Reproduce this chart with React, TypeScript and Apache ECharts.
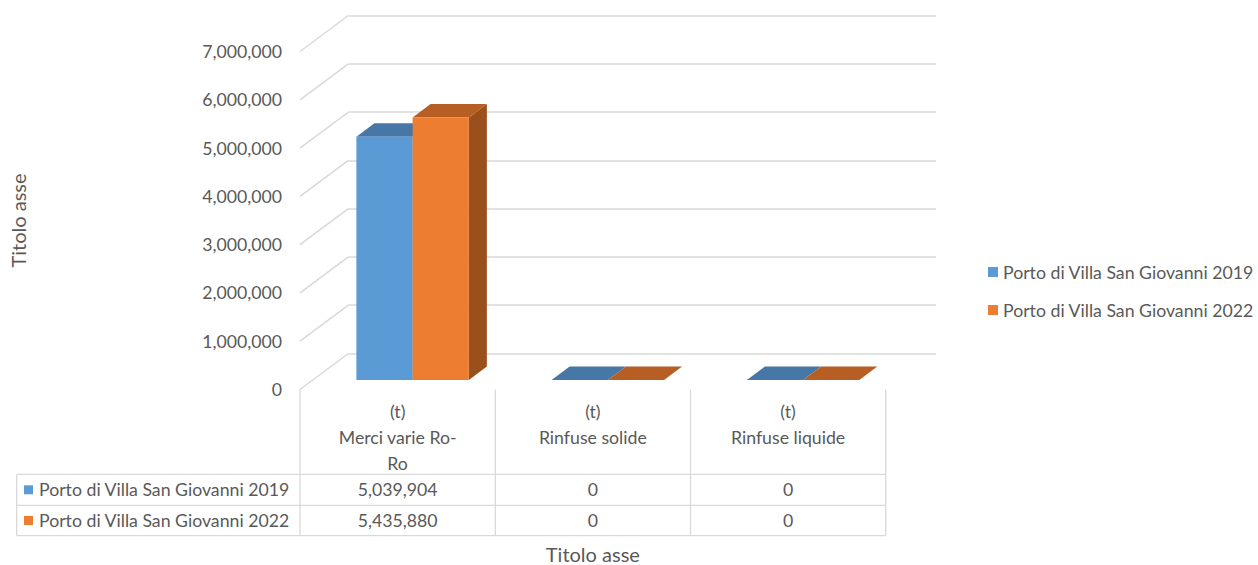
import React, { useEffect, useRef } from "react";
import * as echarts from "echarts";

// ---- data ----
const categories = ["Merci varie Ro-Ro", "Rinfuse solide", "Rinfuse liquide"];
const categoryLabels = ["(t)\nMerci varie Ro-\nRo", "(t)\nRinfuse solide", "(t)\nRinfuse liquide"];
const seriesNames = ["Porto di Villa San Giovanni 2019", "Porto di Villa San Giovanni 2022"];
const values2019 = [5039904, 0, 0];
const values2022 = [5435880, 0, 0];
const yTicks = [0, 1000000, 2000000, 3000000, 4000000, 5000000, 6000000, 7000000];
const axisTitle = "Titolo asse";

// ---- layout ----
const W = 1258;
const H = 565;
const FONT = "Lato, 'Open Sans', sans-serif";
const FS = 17.7;
const FS_TITLE = 20;
const TEXT = "#595959";
const GRID = "#D9D9D9";
const FRONT = { left: 300, top: 51.5, width: 585.7, height: 338 };
const FRONT_BOTTOM = FRONT.top + FRONT.height;
const FRONT_RIGHT = FRONT.left + FRONT.width;
const WALL_DX = 48.4;
const WALL_DY = -36;
const BAR_SHIFT = 15;
const BAR_LIFT = -9.5;
const BAR_DX = 18;
const BAR_DY = -13.5;
const BAR_RATIO = 0.288;

const palettes = [
  { front: "#5B9BD5", top: "#4677A6", side: "#3F6C95" },
  { front: "#ED7D31", top: "#B65E23", side: "#9A4F1C" },
];

const fmt = (v: number) => v.toLocaleString("en-US");

function barRenderer(idx: number) {
  const pal = palettes[idx];
  return (_params: any, api: any) => {
    const i = api.value(0);
    const v = api.value(1);
    const base = api.coord([i, 0]);
    const top = api.coord([i, v]);
    const band = api.size([1, 0])[0];
    const w = band * BAR_RATIO;
    const cx = base[0] + BAR_SHIFT;
    const x0 = idx === 0 ? cx - w : cx;
    const x1 = x0 + w;
    const yb = base[1] + BAR_LIFT;
    const yt = top[1] + BAR_LIFT;
    return {
      type: "group",
      children: [
        {
          type: "polygon",
          shape: { points: [[x1, yt], [x1 + BAR_DX, yt + BAR_DY], [x1 + BAR_DX, yb + BAR_DY], [x1, yb]] },
          style: { fill: pal.side },
        },
        {
          type: "polygon",
          shape: { points: [[x0, yt], [x0 + BAR_DX, yt + BAR_DY], [x1 + BAR_DX, yt + BAR_DY], [x1, yt]] },
          style: { fill: pal.top },
        },
        {
          type: "rect",
          shape: { x: x0, y: yt, width: w, height: yb - yt },
          style: { fill: pal.front },
        },
      ],
    };
  };
}

function buildTable() {
  const els: any[] = [];
  const rowLines = [474.3, 505.3, 535.7];
  const colLines = [FRONT.left, 495.3, 690.5, FRONT_RIGHT];
  const tableLeft = 16.7;
  const line = (x1: number, y1: number, x2: number, y2: number) => ({
    type: "line",
    shape: { x1, y1, x2, y2 },
    style: { stroke: GRID, lineWidth: 1.3 },
    silent: true,
  });
  rowLines.forEach((y) => els.push(line(tableLeft, y, FRONT_RIGHT, y)));
  els.push(line(tableLeft, rowLines[0], tableLeft, rowLines[2]));
  colLines.forEach((x) => els.push(line(x, FRONT_BOTTOM, x, rowLines[2])));

  const rows = [values2019, values2022];
  rows.forEach((vals, r) => {
    const cy = (rowLines[r] + rowLines[r + 1]) / 2;
    els.push({
      type: "rect",
      shape: { x: 24, y: cy - 4.5, width: 9, height: 9 },
      style: { fill: palettes[r].front },
    });
    els.push({
      type: "text",
      x: 39,
      y: cy,
      style: { text: seriesNames[r], fill: TEXT, font: `${FS}px ${FONT}`, verticalAlign: "middle", align: "left" },
    });
    vals.forEach((v, c) => {
      els.push({
        type: "text",
        x: (colLines[c] + colLines[c + 1]) / 2,
        y: cy,
        style: { text: fmt(v), fill: TEXT, font: `${FS}px ${FONT}`, verticalAlign: "middle", align: "center" },
      });
    });
  });
  return els;
}

export default function App() {
  const ref = useRef<HTMLDivElement>(null);

  useEffect(() => {
    if (!ref.current) return;
    const chart = echarts.init(ref.current, null, { renderer: "svg" });
    chart.setOption({
      animation: false,
      backgroundColor: "#ffffff",
      textStyle: { fontFamily: FONT },
      legend: {
        orient: "vertical",
        left: 983,
        top: 258,
        itemWidth: 10,
        itemHeight: 10,
        itemGap: 20,
        icon: "rect",
        data: seriesNames,
        textStyle: { color: TEXT, fontSize: FS, fontFamily: FONT },
      },
      grid: [
        {
          left: FRONT.left,
          top: FRONT.top,
          width: FRONT.width,
          height: FRONT.height,
          containLabel: false,
          outerBoundsMode: "none",
        },
        {
          left: FRONT.left + WALL_DX,
          top: FRONT.top + WALL_DY,
          width: FRONT.width + 2,
          height: FRONT.height,
          containLabel: false,
          outerBoundsMode: "none",
        },
      ],
      xAxis: [
        {
          type: "category",
          gridIndex: 0,
          data: categoryLabels,
          axisLine: { show: false },
          axisTick: { show: false },
          axisLabel: { color: TEXT, fontSize: FS, lineHeight: 26, margin: 9, fontFamily: FONT, interval: 0 },
          name: axisTitle,
          nameLocation: "middle",
          nameGap: 154,
          nameTextStyle: { color: TEXT, fontSize: FS_TITLE, lineHeight: 20, fontFamily: FONT },
        },
        { type: "category", gridIndex: 1, data: categories, show: false },
      ],
      yAxis: [
        {
          type: "value",
          gridIndex: 0,
          min: 0,
          max: 7000000,
          interval: 1000000,
          axisLine: { show: false },
          axisTick: { show: false },
          splitLine: { show: false },
          axisLabel: { color: TEXT, fontSize: FS, margin: 18, fontFamily: FONT, formatter: (v: number) => fmt(v) },
          name: axisTitle,
          nameLocation: "middle",
          nameRotate: 90,
          nameGap: 272,
          nameTextStyle: { color: TEXT, fontSize: FS_TITLE, fontFamily: FONT },
        },
        {
          type: "value",
          gridIndex: 1,
          min: 0,
          max: 7000000,
          interval: 1000000,
          axisLine: { show: false },
          axisTick: { show: false },
          axisLabel: { show: false },
          splitLine: { show: true, lineStyle: { color: GRID, width: 1.5 } },
        },
      ],
      series: [
        {
          name: "floor-wall edges",
          type: "custom",
          xAxisIndex: 0,
          yAxisIndex: 0,
          silent: true,
          data: yTicks.map((v) => [0, v]),
          encode: { x: 0, y: 1 },
          renderItem: (_p: any, api: any) => {
            const pt = api.coord([0, api.value(1)]);
            const band = api.size([1, 0])[0];
            const x = pt[0] - band / 2;
            return {
              type: "line",
              shape: { x1: x, y1: pt[1], x2: x + WALL_DX, y2: pt[1] + WALL_DY },
              style: { stroke: GRID, lineWidth: 1.5 },
            };
          },
        },
        {
          name: seriesNames[0],
          type: "custom",
          xAxisIndex: 0,
          yAxisIndex: 0,
          itemStyle: { color: palettes[0].front },
          data: values2019.map((v, i) => [i, v]),
          encode: { x: 0, y: 1 },
          renderItem: barRenderer(0),
        },
        {
          name: seriesNames[1],
          type: "custom",
          xAxisIndex: 0,
          yAxisIndex: 0,
          itemStyle: { color: palettes[1].front },
          data: values2022.map((v, i) => [i, v]),
          encode: { x: 0, y: 1 },
          renderItem: barRenderer(1),
        },
      ],
      graphic: buildTable(),
    });
    return () => chart.dispose();
  }, []);

  return <div ref={ref} style={{ position: "fixed", left: 0, top: 0, width: W, height: H }} />;
}
